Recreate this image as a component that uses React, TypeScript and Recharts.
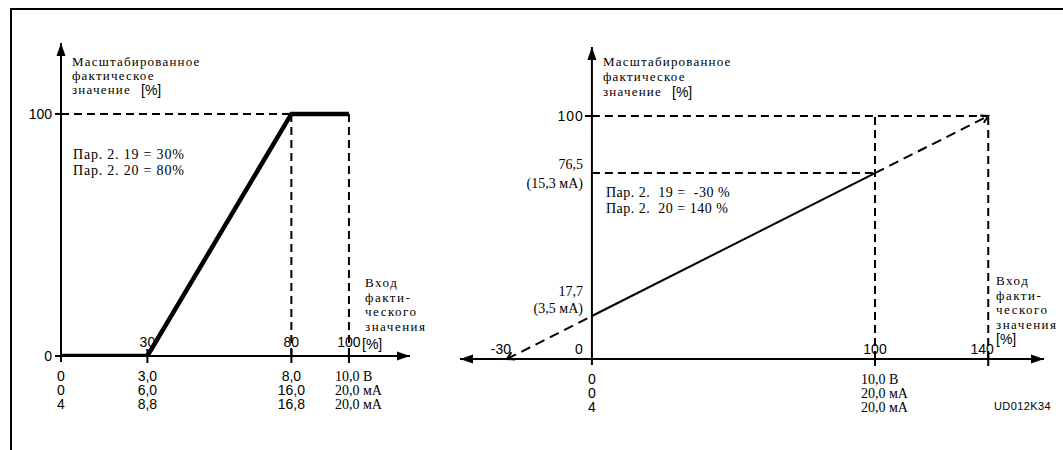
import React from 'react';
import { ComposedChart, Line, XAxis, YAxis, ReferenceLine, ReferenceDot } from 'recharts';

// left chart: Пар. 2.19 = 30 %, Пар. 2.20 = 80 %
const leftCurve = [
  { x: 0, y: 0 },
  { x: 30, y: 0 },
  { x: 80, y: 100 },
  { x: 100, y: 100 },
];
const leftTicks = [0, 30, 80, 100];
const leftTopLabels = ['', '30', '80', '100'];
const leftVoltRow = ['0', '3,0', '8,0', '10,0 В'];
const leftMa0Row = ['0', '6,0', '16,0', '20,0 мА'];
const leftMa4Row = ['4', '8,8', '16,8', '20,0 мА'];
const leftYTicks = [0, 100];

// right chart: Пар. 2.19 = -30 %, Пар. 2.20 = 140 %
const rightBelowZero = [{ x: -30, y: 0 }, { x: 0, y: 17.7 }];
const rightInRange = [{ x: 0, y: 17.7 }, { x: 100, y: 76.5 }];
const rightAboveMax = [{ x: 100, y: 76.5 }, { x: 140, y: 100 }];
const rightTicks = [-30, 0, 100, 140];
const rightTopLabels = ['-30', '0', '100', '140'];
const rightVoltRow = ['', '0', '10,0 В', ''];
const rightMa0Row = ['', '0', '20,0 мА', ''];
const rightMa4Row = ['', '4', '20,0 мА', ''];
const rightYTicks = [100, 76.5, 17.7];
const rightYLabels = [['100'], ['76,5', '(15,3 мА)'], ['17,7', '(3,5 мА)']];

// axis extents (where the arrow heads sit)
const LEFT_X = [0, 121.2];
const LEFT_Y = [0, 129.3];
const RIGHT_X = [-46.6, 159.7];
const RIGHT_Y = [0, 128.4];

// right plot area size, used only to turn the line slope into an angle for the small end arrows
const R_PLOT_W = 584;
const R_PLOT_H = 312;

const SANS = '"Liberation Sans", Arial, sans-serif';
const SERIF = '"Liberation Serif", "Times New Roman", serif';
const DASH = '8 5';
const hasCyr = (s: string) => /[А-Яа-яЁё]/.test(s);

function Arrow({ cx, cy, dir }: { cx: number; cy: number; dir: 'up' | 'left' | 'right' }) {
  const L = 13;
  const W = 4.5;
  let pts = '';
  if (dir === 'up') pts = `${cx},${cy} ${cx - W},${cy + L} ${cx + W},${cy + L}`;
  if (dir === 'right') pts = `${cx},${cy} ${cx - L},${cy - W} ${cx - L},${cy + W}`;
  if (dir === 'left') pts = `${cx},${cy} ${cx + L},${cy - W} ${cx + L},${cy + W}`;
  return <polygon points={pts} fill="#000" />;
}

// small open arrow head at the end of the extrapolated line
function SmallHead({ cx, cy, angle }: { cx: number; cy: number; angle: number }) {
  return (
    <g transform={`translate(${cx},${cy}) rotate(${angle})`}>
      <polyline points="-7,-4 0,0 -7,4" fill="none" stroke="#000" strokeWidth={2} />
    </g>
  );
}

function XTick(props: any) {
  const { x, y, payload, ticks, top, rows, marks, topDx, topDy, topAnchor } = props;
  const i = ticks.indexOf(payload.value);
  if (i < 0) return null;
  const mark = marks[i];
  return (
    <g>
      {mark === 'cross' && <line x1={x} x2={x} y1={y - 7} y2={y + 7} stroke="#000" strokeWidth={2} />}
      {mark === 'down' && <line x1={x} x2={x} y1={y} y2={y + 6} stroke="#000" strokeWidth={2} />}
      {top[i] && (
        <text x={x + topDx[i]} y={y + topDy} textAnchor={topAnchor[i]} fontFamily={SANS} fontSize={14} fill="#000">
          {top[i]}
        </text>
      )}
      {rows.map((row: string[], r: number) =>
        row[i] ? (
          hasCyr(row[i]) ? (
            <text key={r} x={x - 14} y={y + 25 + r * 14} textAnchor="start" fontFamily={SERIF} fontSize={14} fill="#000">
              {row[i]}
            </text>
          ) : (
            <text key={r} x={x} y={y + 25 + r * 14} textAnchor="middle" fontFamily={SANS} fontSize={14} fill="#000">
              {row[i]}
            </text>
          )
        ) : null
      )}
    </g>
  );
}

const yLabelDy = [[5], [-4, 15], [-20, -3]];

function RightYLabel({ cx, cy, idx }: { cx: number; cy: number; idx: number }) {
  const lines = rightYLabels[idx];
  if (lines.length === 1) {
    return (
      <g>
        <line x1={cx - 7} x2={cx} y1={cy} y2={cy} stroke="#000" strokeWidth={2} />
        <text x={cx - 8} y={cy + 5} textAnchor="end" fontFamily={SANS} fontSize={14} letterSpacing={1} fill="#000">
          {lines[0]}
        </text>
      </g>
    );
  }
  return (
    <g>
      {lines.map((s, k) => (
        <text key={k} x={cx - 9} y={cy + yLabelDy[idx][k]} textAnchor="end" fontFamily={SERIF} fontSize={14} fill="#000">
          {s}
        </text>
      ))}
    </g>
  );
}

function Txt({ left, top, size = 13, lh = 14, ls = 0, font = SERIF, children }: any) {
  return (
    <div
      style={{
        position: 'absolute', left, top, fontSize: size, lineHeight: `${lh}px`, letterSpacing: ls,
        fontFamily: font, color: '#000', whiteSpace: 'pre',
      }}
    >
      {children}
    </div>
  );
}

const slopeDeg = (a: { x: number; y: number }, b: { x: number; y: number }) => {
  const dx = ((b.x - a.x) * R_PLOT_W) / (RIGHT_X[1] - RIGHT_X[0]);
  const dy = (-(b.y - a.y) * R_PLOT_H) / (RIGHT_Y[1] - RIGHT_Y[0]);
  return (Math.atan2(dy, dx) * 180) / Math.PI;
};

export default function App() {
  const line = { stroke: '#000', strokeWidth: 2 };
  const lowEnd = rightBelowZero[0];
  const highEnd = rightAboveMax[rightAboveMax.length - 1];
  return (
    <div style={{ position: 'absolute', left: 0, top: 0, width: 1063, height: 450, overflow: 'hidden', background: '#fff' }}>
      <div style={{ position: 'absolute', left: 10, top: 8, width: 1200, height: 600, borderLeft: '2px solid #000', borderTop: '2px solid #000' }} />

      {/* left diagram */}
      <div style={{ position: 'absolute', left: 0, top: 0 }}>
        <ComposedChart width={430} height={450} margin={{ top: 43, right: 20, bottom: 34, left: 21 }}>
          <XAxis
            type="number" dataKey="x" domain={LEFT_X} ticks={leftTicks} interval={0} allowDataOverflow
            height={60} tickSize={0} tickMargin={0} axisLine={line} tickLine={false}
            tick={(p: any) => (
              <XTick {...p} ticks={leftTicks} top={leftTopLabels} rows={[leftVoltRow, leftMa0Row, leftMa4Row]}
                marks={['down', 'cross', 'cross', 'cross']} topDx={[0, 0, 0, 0]} topDy={-9}
                topAnchor={['middle', 'middle', 'middle', 'middle']} />
            )}
          />
          <YAxis
            type="number" domain={LEFT_Y} ticks={leftYTicks} interval={0} allowDataOverflow width={40}
            axisLine={line} tickLine={line} tickSize={6} tickMargin={3}
            tick={{ fill: '#000', fontSize: 14, fontFamily: SANS }}
          />
          <ReferenceLine segment={[{ x: 0, y: 100 }, { x: 80, y: 100 }]} stroke="#000" strokeWidth={2} strokeDasharray={DASH} />
          <ReferenceLine segment={[{ x: 80, y: 0 }, { x: 80, y: 100 }]} stroke="#000" strokeWidth={2} strokeDasharray={DASH} />
          <ReferenceLine segment={[{ x: 100, y: 0 }, { x: 100, y: 100 }]} stroke="#000" strokeWidth={2} strokeDasharray={DASH} />
          <Line data={leftCurve} dataKey="y" type="linear" stroke="#000" strokeWidth={4.5} dot={false} activeDot={false} isAnimationActive={false} />
          <ReferenceDot x={LEFT_X[1]} y={0} ifOverflow="visible" shape={(p: any) => <Arrow cx={p.cx} cy={p.cy} dir="right" />} />
          <ReferenceDot x={0} y={LEFT_Y[1]} ifOverflow="visible" shape={(p: any) => <Arrow cx={p.cx} cy={p.cy} dir="up" />} />
        </ComposedChart>
      </div>

      {/* right diagram */}
      <div style={{ position: 'absolute', left: 440, top: 0 }}>
        <ComposedChart width={623} height={450} margin={{ top: 47, right: 19, bottom: 31, left: 20 }}>
          <XAxis
            type="number" dataKey="x" domain={RIGHT_X} ticks={rightTicks} interval={0} allowDataOverflow
            height={60} tickSize={0} tickMargin={0} axisLine={line} tickLine={false}
            tick={(p: any) => (
              <XTick {...p} ticks={rightTicks} top={rightTopLabels} rows={[rightVoltRow, rightMa0Row, rightMa4Row]}
                marks={['none', 'down', 'cross', 'cross']} topDx={[-6, -9, 0, -6]} topDy={-5}
                topAnchor={['middle', 'end', 'middle', 'middle']} />
            )}
          />
          <YAxis type="number" domain={RIGHT_Y} allowDataOverflow hide />
          <ReferenceLine segment={[{ x: 0, y: 0 }, { x: 0, y: RIGHT_Y[1] }]} stroke="#000" strokeWidth={2} />
          <ReferenceLine segment={[{ x: 0, y: 100 }, { x: 140, y: 100 }]} stroke="#000" strokeWidth={2} strokeDasharray={DASH} />
          <ReferenceLine segment={[{ x: 0, y: 76.5 }, { x: 100, y: 76.5 }]} stroke="#000" strokeWidth={2} strokeDasharray={DASH} />
          <ReferenceLine segment={[{ x: 100, y: 0 }, { x: 100, y: 100 }]} stroke="#000" strokeWidth={2} strokeDasharray={DASH} />
          <ReferenceLine segment={[{ x: 140, y: 0 }, { x: 140, y: 100 }]} stroke="#000" strokeWidth={2} strokeDasharray={DASH} />
          <Line data={rightBelowZero} dataKey="y" type="linear" stroke="#000" strokeWidth={2} strokeDasharray="10 6" dot={false} activeDot={false} isAnimationActive={false} />
          <Line data={rightInRange} dataKey="y" type="linear" stroke="#000" strokeWidth={2} dot={false} activeDot={false} isAnimationActive={false} />
          <Line data={rightAboveMax} dataKey="y" type="linear" stroke="#000" strokeWidth={2} strokeDasharray="10 6" dot={false} activeDot={false} isAnimationActive={false} />
          <ReferenceDot x={lowEnd.x} y={lowEnd.y} ifOverflow="visible"
            shape={(p: any) => <SmallHead cx={p.cx} cy={p.cy} angle={slopeDeg(rightBelowZero[1], lowEnd)} />} />
          <ReferenceDot x={highEnd.x} y={highEnd.y} ifOverflow="visible"
            shape={(p: any) => <SmallHead cx={p.cx} cy={p.cy} angle={slopeDeg(rightAboveMax[0], highEnd)} />} />
          {rightYTicks.map((v, i) => (
            <ReferenceDot key={v} x={0} y={v} ifOverflow="visible" shape={(p: any) => <RightYLabel cx={p.cx} cy={p.cy} idx={i} />} />
          ))}
          <ReferenceDot x={RIGHT_X[1]} y={0} ifOverflow="visible" shape={(p: any) => <Arrow cx={p.cx} cy={p.cy} dir="right" />} />
          <ReferenceDot x={RIGHT_X[0]} y={0} ifOverflow="visible" shape={(p: any) => <Arrow cx={p.cx} cy={p.cy} dir="left" />} />
          <ReferenceDot x={0} y={RIGHT_Y[1]} ifOverflow="visible" shape={(p: any) => <Arrow cx={p.cx} cy={p.cy} dir="up" />} />
        </ComposedChart>
      </div>

      {/* axis titles and notes */}
      <Txt left={72} top={55} ls={1.2}>Масштабированное</Txt>
      <Txt left={72} top={69} ls={1.2}>фактическое</Txt>
      <Txt left={72} top={83} ls={1.2}>значение</Txt>
      <Txt left={141} top={82} size={14} lh={16} font={SANS}>[%]</Txt>

      <Txt left={603} top={55} ls={1.2}>Масштабированное</Txt>
      <Txt left={603} top={70} ls={1.2}>фактическое</Txt>
      <Txt left={603} top={85} ls={1.2}>значение</Txt>
      <Txt left={672} top={84} size={14} lh={16} font={SANS}>[%]</Txt>

      <Txt left={73} top={147} size={14} lh={16} ls={0.8}>Пар. 2. 19 = 30%</Txt>
      <Txt left={73} top={163} size={14} lh={16} ls={0.8}>Пар. 2. 20 = 80%</Txt>
      <Txt left={606} top={185} size={14} lh={16} ls={0.5}>Пар. 2.  19 =  -30 %</Txt>
      <Txt left={606} top={201} size={14} lh={16} ls={0.5}>Пар. 2.  20 = 140 %</Txt>

      <Txt left={365} top={276} lh={14.5} ls={1.5}>{'Вход\nфакти-\nческого\nзначения'}</Txt>
      <Txt left={362} top={336} size={14} lh={16} font={SANS}>[%]</Txt>
      <Txt left={996} top={274} lh={14.5} ls={1.5}>{'Вход\nфакти-\nческого\nзначения'}</Txt>
      <Txt left={996} top={331} size={14} lh={16} font={SANS}>[%]</Txt>
      <Txt left={994} top={399} size={11} lh={14} ls={0.4} font={SANS}>UD012K34</Txt>
    </div>
  );
}
